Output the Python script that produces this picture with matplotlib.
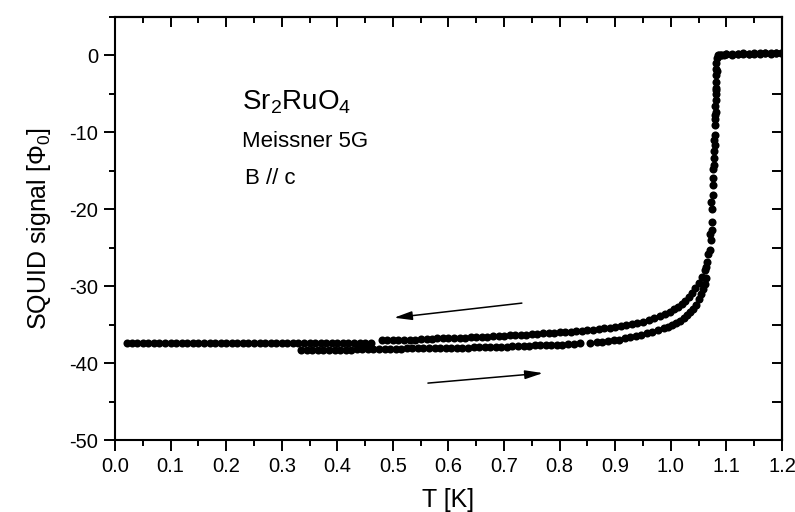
import matplotlib
matplotlib.use("Agg")
import matplotlib.pyplot as plt
from matplotlib.ticker import MultipleLocator

plt.rcParams["font.family"] = ["Liberation Sans", "DejaVu Sans"]
plt.rcParams["mathtext.fontset"] = "custom"
plt.rcParams["mathtext.rm"] = "Liberation Sans"
plt.rcParams["mathtext.it"] = "Liberation Sans:italic"
plt.rcParams["axes.unicode_minus"] = False

# cooling run: from the normal state down to the lowest temperature
T_cool = [1.200, 1.190, 1.180, 1.170, 1.160, 1.150, 1.140, 1.130, 1.120, 1.110,
          1.100, 1.095, 1.090, 1.086, 1.083, 1.082, 1.082, 1.081, 1.082, 1.081,
          1.082, 1.081, 1.080, 1.081, 1.080, 1.079, 1.079, 1.079, 1.078, 1.078,
          1.077, 1.076, 1.076, 1.076, 1.075, 1.075, 1.074, 1.072, 1.070, 1.066,
          1.062, 1.057, 1.050, 1.044, 1.038, 1.032, 1.026, 1.020, 1.013, 1.006,
          0.998, 0.990, 0.980, 0.970, 0.960, 0.950, 0.940, 0.930, 0.920, 0.910,
          0.900, 0.890, 0.880, 0.870, 0.860, 0.850, 0.840, 0.830, 0.820, 0.810,
          0.800, 0.790, 0.780, 0.770, 0.760, 0.750, 0.740, 0.730, 0.720, 0.710,
          0.700, 0.690, 0.680, 0.670, 0.660, 0.650, 0.640, 0.630, 0.620, 0.610,
          0.600, 0.590, 0.580, 0.570, 0.562, 0.550, 0.540, 0.530, 0.520, 0.510,
          0.500, 0.490, 0.480, 0.460, 0.450, 0.440, 0.430, 0.420, 0.410, 0.400,
          0.390, 0.380, 0.370, 0.360, 0.350, 0.340, 0.330, 0.320, 0.310, 0.300,
          0.290, 0.280, 0.270, 0.260, 0.250, 0.240, 0.230, 0.220, 0.210, 0.200,
          0.190, 0.180, 0.170, 0.160, 0.150, 0.140, 0.130, 0.120, 0.110, 0.100,
          0.090, 0.080, 0.070, 0.060, 0.050, 0.040, 0.030, 0.022]
S_cool = [0.3, 0.3, 0.2, 0.3, 0.2, 0.2, 0.2, 0.2, 0.2, 0.1,
          0.2, 0.1, 0.1, 0.0, -0.3, -1.0, -1.8, -2.6, -3.4, -4.2,
          -5.0, -5.8, -6.6, -7.4, -8.2, -9.0, -10.3, -11.7, -12.4, -13.3,
          -14.2, -15.9, -16.8, -18.1, -20.0, -21.6, -22.7, -24.0, -25.3, -26.8,
          -27.9, -28.8, -29.6, -30.3, -30.9, -31.4, -31.9, -32.3, -32.7, -33.0,
          -33.3, -33.6, -33.9, -34.2, -34.4, -34.6, -34.8, -34.95, -35.1, -35.2,
          -35.3, -35.4, -35.5, -35.6, -35.65, -35.7, -35.8, -35.85, -35.9, -35.95,
          -36.0, -36.05, -36.1, -36.15, -36.2, -36.25, -36.3, -36.35, -36.4, -36.4,
          -36.45, -36.5, -36.5, -36.55, -36.6, -36.6, -36.65, -36.7, -36.7, -36.75,
          -36.75, -36.8, -36.8, -36.85, -36.9, -36.9, -36.95, -36.95, -37.0, -37.0,
          -37.0, -37.05, -37.05, -37.4, -37.4, -37.4, -37.4, -37.4, -37.4, -37.4,
          -37.4, -37.4, -37.4, -37.4, -37.4, -37.4, -37.4, -37.4, -37.4, -37.4,
          -37.4, -37.4, -37.4, -37.4, -37.4, -37.4, -37.4, -37.4, -37.4, -37.4,
          -37.4, -37.4, -37.4, -37.4, -37.4, -37.4, -37.4, -37.4, -37.4, -37.4,
          -37.4, -37.4, -37.4, -37.4, -37.4, -37.4, -37.4, -37.4]

# warming run: back up through the transition
T_warm = [0.335, 0.345, 0.355, 0.365, 0.375, 0.385, 0.395, 0.405, 0.415, 0.425,
          0.435, 0.445, 0.455, 0.465, 0.475, 0.485, 0.495, 0.505, 0.515, 0.525,
          0.535, 0.545, 0.555, 0.565, 0.575, 0.585, 0.595, 0.605, 0.615, 0.625,
          0.635, 0.645, 0.655, 0.665, 0.675, 0.685, 0.695, 0.705, 0.715, 0.725,
          0.735, 0.745, 0.755, 0.765, 0.775, 0.785, 0.795, 0.805, 0.815, 0.825,
          0.837, 0.855, 0.867, 0.877, 0.887, 0.897, 0.907, 0.917, 0.927, 0.937,
          0.947, 0.957, 0.967, 0.977, 0.987, 0.995, 1.003, 1.010, 1.017, 1.023,
          1.029, 1.035, 1.040, 1.045, 1.050, 1.055, 1.058, 1.061, 1.063, 1.064,
          1.067, 1.070, 1.073, 1.076, 1.078, 1.080, 1.082, 1.083, 1.085, 1.090,
          1.100, 1.110, 1.120, 1.130, 1.140, 1.150, 1.160, 1.170, 1.180, 1.190,
          1.198]
S_warm = [-38.3, -38.3, -38.3, -38.3, -38.3, -38.3, -38.25, -38.25, -38.25, -38.25,
          -38.2, -38.2, -38.2, -38.2, -38.2, -38.15, -38.15, -38.15, -38.15, -38.1,
          -38.1, -38.1, -38.1, -38.1, -38.05, -38.05, -38.05, -38.05, -38.0, -38.0,
          -38.0, -37.95, -37.95, -37.9, -37.9, -37.85, -37.85, -37.85, -37.8, -37.8,
          -37.75, -37.75, -37.7, -37.7, -37.65, -37.65, -37.6, -37.6, -37.55, -37.5,
          -37.45, -37.4, -37.3, -37.25, -37.15, -37.05, -36.95, -36.8, -36.65, -36.5,
          -36.35, -36.15, -35.95, -35.75, -35.5, -35.3, -35.05, -34.8, -34.5, -34.2,
          -33.8, -33.4, -33.0, -32.4, -31.7, -31.0, -30.4, -29.7, -29.0, -27.5,
          -25.8, -23.2, -19.0, -14.8, -11.0, -7.8, -4.5, -2.0, 0.0, 0.1,
          0.2, 0.2, 0.2, 0.3, 0.2, 0.3, 0.3, 0.3, 0.3, 0.3,
          0.3]

# sweep direction arrows: (tail, head) in T [K] / signal units
arrow_cool = ((0.732, -32.2), (0.502, -34.1))
arrow_warm = ((0.563, -42.6), (0.770, -41.3))

x_ticks = [0.0, 0.1, 0.2, 0.3, 0.4, 0.5, 0.6, 0.7, 0.8, 0.9, 1.0, 1.1, 1.2]
y_ticks = [-50, -40, -30, -20, -10, 0]

fig = plt.figure(figsize=(7.95, 5.12), dpi=100)
ax = fig.add_axes([0.1447, 0.1406, 0.8389, 0.8262])

ax.plot(T_cool, S_cool, "o", color="black", markersize=5.8, markeredgewidth=0)
ax.plot(T_warm, S_warm, "o", color="black", markersize=5.8, markeredgewidth=0)

for tail, head in (arrow_cool, arrow_warm):
    ax.annotate("", xy=head, xytext=tail,
                arrowprops=dict(arrowstyle="-|>,head_length=0.9,head_width=0.22",
                                color="black", lw=1.1, shrinkA=0, shrinkB=0,
                                mutation_scale=12))

ax.text(0.228, -7.0, "Sr$_2$RuO$_4$", fontsize=20, va="baseline")
ax.text(0.228, -11.85, "Meissner 5G", fontsize=16, va="baseline")
ax.text(0.234, -16.7, "B // c", fontsize=16, va="baseline")

ax.set_xlim(0.0, 1.2)
ax.set_ylim(-50, 5)
ax.set_xticks(x_ticks)
ax.set_xticklabels([f"{t:.1f}" for t in x_ticks])
ax.set_yticks(y_ticks)
ax.xaxis.set_minor_locator(MultipleLocator(0.05))
ax.yaxis.set_minor_locator(MultipleLocator(5))
ax.tick_params(which="both", direction="out", width=1.4, labelsize=14.5)
ax.tick_params(which="major", length=8)
ax.tick_params(which="minor", length=4)
ax.tick_params(axis="x", pad=4)
ax.tick_params(axis="y", pad=4)
for sp in ax.spines.values():
    sp.set_linewidth(1.5)

# inward ticks on the top and right frame
top = ax.secondary_xaxis("top")
top.set_xticks(x_ticks)
top.xaxis.set_minor_locator(MultipleLocator(0.05))
top.tick_params(which="both", direction="in", width=1.4, labeltop=False)
top.tick_params(which="major", length=7.5)
top.tick_params(which="minor", length=4.5)
right = ax.secondary_yaxis("right")
right.set_yticks(y_ticks)
right.yaxis.set_minor_locator(MultipleLocator(5))
right.tick_params(which="both", direction="in", width=1.4, labelright=False)
right.tick_params(which="major", length=7)
right.tick_params(which="minor", length=7)
for sec in (top, right):
    for sp in sec.spines.values():
        sp.set_linewidth(1.5)

ax.set_xlabel("T [K]", fontsize=18, labelpad=9)
ax.set_ylabel("SQUID signal [$\\Phi_0$]", fontsize=18, labelpad=12)

fig.savefig("out.png", dpi=100)
